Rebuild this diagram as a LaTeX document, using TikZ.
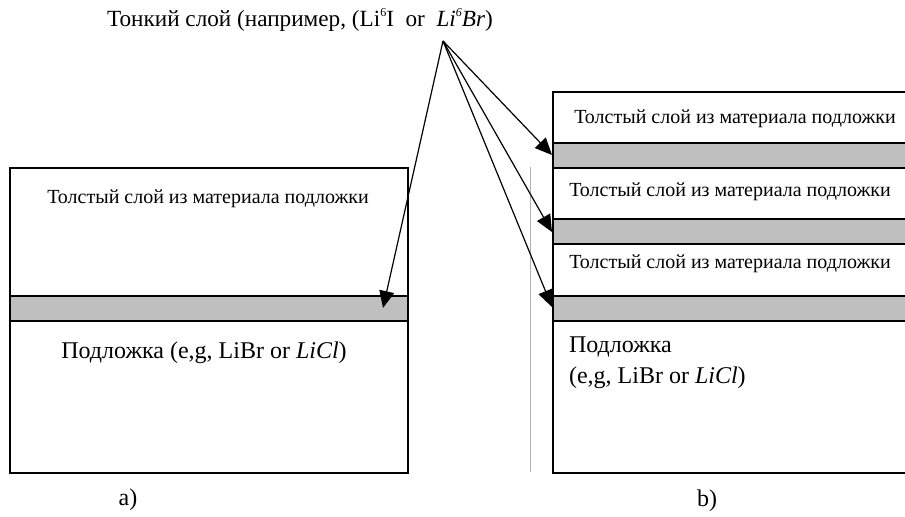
\documentclass[tikz,border=0pt]{standalone}
\usepackage{fontspec}
\setmainfont{Liberation Serif}
\usetikzlibrary{arrows.meta,positioning}
\tikzset
{
    thick layer/.style = {rectangle, draw=black, line width=1pt, fill=white, anchor=north west, inner sep=0pt},
    thin layer/.style  = {rectangle, draw=black, line width=1pt, fill=black!25, anchor=north west, inner sep=0pt},
    layertext/.style   = {font=\fontsize{10}{12}\selectfont},
    subtext/.style     = {font=\fontsize{12}{15.5}\selectfont, align=left},
    pointer/.style     = {-{Triangle[length=8.5pt,width=7.5pt]}, line width=0.6pt}
}
\newcommand{\liso}[1]{Li\raisebox{0.45em}{\fontsize{6}{6}\selectfont 6}#1}

\begin{document}
\begin{tikzpicture}[x=0.5pt, y=-0.5pt]
\useasboundingbox (0,0) rectangle (905,517);

%% a) single thin layer
\node (la1)	[thick layer, minimum width=199pt, minimum height=64pt]	at (9,167)	{};
\node (la2)	[thin layer, minimum width=199pt, minimum height=12.5pt]	at (9,295)	{};
\node (la3)	[thick layer, minimum width=199pt, minimum height=76pt]	at (9,320)	{};

%% b) stacked thin layers
\node (lb1)	[thick layer, minimum width=180pt, minimum height=25.5pt]	at (552,91)	{};
\node (lb2)	[thin layer, minimum width=180pt, minimum height=12.5pt]	at (552,142)	{};
\node (lb3)	[thick layer, minimum width=180pt, minimum height=25.5pt]	at (552,167)	{};
\node (lb4)	[thin layer, minimum width=180pt, minimum height=12.5pt]	at (552,218)	{};
\node (lb5)	[thick layer, minimum width=180pt, minimum height=26pt]	at (552,243)	{};
\node (lb6)	[thin layer, minimum width=180pt, minimum height=12.5pt]	at (552,295)	{};
\node (lb7)	[thick layer, minimum width=180pt, minimum height=76pt]	at (552,320)	{};

\draw[black!30, line width=0.4pt] (530,167) -- (530,472);

%% texts
\node (title)	[font=\fontsize{11.6}{13}\selectfont]	at (300,20)	{Тонкий слой (например, (\liso{I}~ or ~\textit{\liso{Br}})};
\node (ta)	[layertext]	at (208,199)	{Толстый слой из материала подложки};
\node (sa)	[subtext]	at (204,353)	{Подложка (e,g, LiBr or \textit{LiCl})};
\node (tb1)	[layertext]	at (735,119)	{Толстый слой из материала подложки};
\node (tb2)	[layertext]	at (730,192)	{Толстый слой из материала подложки};
\node (tb3)	[layertext]	at (730,264)	{Толстый слой из материала подложки};
\node (sb)	[subtext, anchor=north west]	at (562,330)	{Подложка\\(e,g, LiBr or \textit{LiCl})};
\node (capa)	[subtext]	at (128,500)	{a)};
\node (capb)	[subtext]	at (707,501)	{b)};

%% pointers
\coordinate (src) at (443,41);
\coordinate (pa) at (383,308);
\coordinate (pb1) at (552,155);
\coordinate (pb2) at (552,232);
\coordinate (pb3) at (552,307);
\draw[pointer] (src) -- (pa);
\draw[pointer] (src) -- (pb1);
\draw[pointer] (src) -- (pb2);
\draw[pointer] (src) -- (pb3);

\end{tikzpicture}
\end{document}
